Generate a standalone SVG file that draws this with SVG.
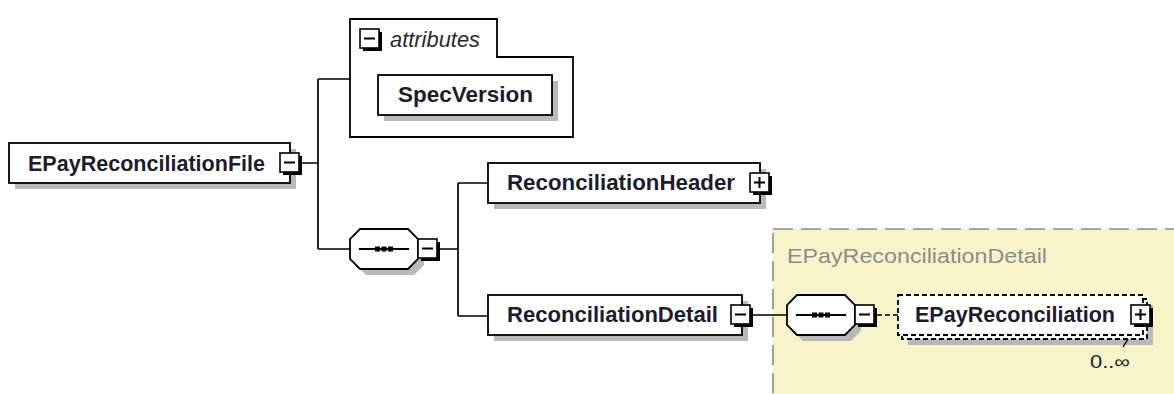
<svg xmlns="http://www.w3.org/2000/svg" width="1174" height="394" viewBox="0 0 1174 394">
<style>
.box{fill:#ffffff;stroke:#000;stroke-width:1.8}
.shadow{fill:#b9b9b9}
.lbl{font-family:"Liberation Sans",Arial,sans-serif;font-weight:bold;font-size:22px;fill:#1c1c2c}
.line{fill:none;stroke:#000;stroke-width:1.7}
.btnbg{fill:#000}
.btn{fill:#fff;stroke:#000;stroke-width:1.6}
.sign{stroke:#000;stroke-width:2;fill:none}
.dash{fill:#fff;stroke:#000;stroke-width:1.8;stroke-dasharray:5 3}
</style>
<defs>
<g id="minus">
<rect class="btnbg" x="3" y="3" width="19" height="19"/>
<rect class="btn" x="0" y="0" width="19" height="19"/>
<path class="sign" d="M4,9.5 H15"/>
</g>
<g id="plus">
<rect class="btnbg" x="3" y="3" width="19" height="19"/>
<rect class="btn" x="0" y="0" width="19" height="19"/>
<path class="sign" d="M4,9.5 H15 M9.5,4 V15"/>
</g>
<g id="seq">
<polygon class="shadow" points="16,6 64,6 74,16 74,36 64,46 16,46 6,36 6,16"/>
<polygon class="box" points="10,0 58,0 68,10 68,30 58,40 10,40 0,30 0,10"/>
<path class="sign" d="M9,20 H59"/>
<rect x="25" y="17.5" width="5" height="5" fill="#000"/>
<rect x="31.5" y="17.5" width="5" height="5" fill="#000"/>
<rect x="38" y="17.5" width="5" height="5" fill="#000"/>
</g>
</defs>
<rect width="1174" height="394" fill="#fff"/>

<g id="region-EPayReconciliationDetail">
<rect x="773" y="229" width="420" height="180" fill="#f6f4c8" stroke="#8a8a8a" stroke-width="1.6" stroke-dasharray="20 8"/>
<text x="787" y="263" font-family="'Liberation Sans',Arial,sans-serif" font-size="21px" fill="#8c8c8c" textLength="260" lengthAdjust="spacingAndGlyphs">EPayReconciliationDetail</text>
</g>

<g id="connectors">
<path class="line" d="M299,163 H318 M318,79 V249 M318,79 H350 M318,249 H350"/>
<path class="line" d="M440,249 H458 M458,183 V316 M458,183 H488 M458,316 H488"/>
<path class="line" d="M753,315 H787"/>
<path class="line" d="M877,315 H898" stroke-dasharray="5 3"/>
</g>

<g id="node-EPayReconciliationFile">
<rect class="shadow" x="15" y="149" width="281" height="40"/>
<rect class="box" x="9" y="143" width="281" height="40"/>
<text class="lbl" x="28" y="171" textLength="237" lengthAdjust="spacingAndGlyphs">EPayReconciliationFile</text>
<use href="#minus" x="280" y="153"/>
</g>

<g id="node-attributes">
<path class="box" d="M350,137 V19 H497 V57 H573 V137 Z"/>
<use href="#minus" x="360" y="29"/>
<text x="390" y="47" font-family="'Liberation Sans',Arial,sans-serif" font-style="italic" font-size="22px" fill="#2a2a2a" textLength="90" lengthAdjust="spacingAndGlyphs">attributes</text>
</g>

<g id="node-SpecVersion">
<rect class="shadow" x="384" y="81" width="174" height="40"/>
<rect class="box" x="378" y="75" width="174" height="40"/>
<text class="lbl" x="398" y="102" textLength="135" lengthAdjust="spacingAndGlyphs">SpecVersion</text>
</g>

<g id="node-sequence1">
<use href="#seq" x="350" y="229"/>
<use href="#minus" x="418" y="239"/>
</g>

<g id="node-ReconciliationHeader">
<rect class="shadow" x="494" y="169" width="272" height="40"/>
<rect class="box" x="488" y="163" width="272" height="40"/>
<text class="lbl" x="507" y="190" textLength="228" lengthAdjust="spacingAndGlyphs">ReconciliationHeader</text>
<use href="#plus" x="750" y="173"/>
</g>

<g id="node-ReconciliationDetail">
<rect class="shadow" x="494" y="301" width="254" height="40"/>
<rect class="box" x="488" y="295" width="254" height="40"/>
<text class="lbl" x="507" y="322" textLength="211" lengthAdjust="spacingAndGlyphs">ReconciliationDetail</text>
<use href="#minus" x="731" y="305"/>
</g>

<g id="node-sequence2">
<use href="#seq" x="787" y="295"/>
<use href="#minus" x="855" y="305"/>
</g>

<g id="node-EPayReconciliation">
<rect class="shadow" x="908" y="305" width="245" height="40"/>
<rect class="dash" x="902" y="299" width="245" height="40"/>
<rect class="dash" x="898" y="295" width="245" height="40"/>
<text class="lbl" x="915" y="322" textLength="200" lengthAdjust="spacingAndGlyphs">EPayReconciliation</text>
<use href="#plus" x="1131" y="305"/>
<path d="M1128,339 L1123,347" stroke="#000" stroke-width="1.4"/>
<text x="1090" y="368" font-family="'Liberation Sans',Arial,sans-serif" font-size="18px" fill="#1c1c2c" textLength="40" lengthAdjust="spacingAndGlyphs">0..∞</text>
</g>
</svg>
